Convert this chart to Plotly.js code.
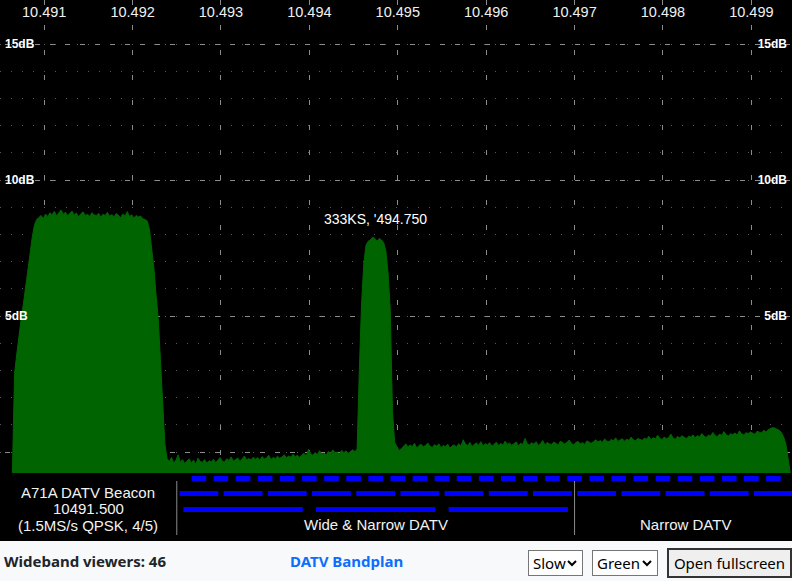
<!DOCTYPE html>
<html>
<head>
<meta charset="utf-8">
<script src="https://cdn.plot.ly/plotly-3.0.1.min.js"></script>
<style>
html, body { margin:0; padding:0; background:#000; width:792px; height:581px; overflow:hidden; }
#chart { position:absolute; left:0; top:0; width:792px; height:541px; }
#bar { position:absolute; left:0; top:541px; width:792px; height:40px; background:#f8f9fa; font-family:"Noto Sans","Open Sans",sans-serif; }
#viewers { position:absolute; left:4px; top:9px; font-size:15px; font-weight:bold; color:#212529; line-height:22px; }
#bandplan { position:absolute; left:290px; top:9px; font-size:15px; font-weight:bold; color:#0d6efd; line-height:22px; }
select { position:absolute; top:9px; height:26px; font-family:"Noto Sans","Open Sans",sans-serif; font-size:15px;
  border:1px solid #767676; border-radius:0; color:#000; padding:0 0 0 4px;
  -webkit-appearance:none; appearance:none;
  background:#fff url("data:image/svg+xml;utf8,<svg xmlns='http://www.w3.org/2000/svg' width='10' height='7'><path d='M1 1 L5 5 L9 1' fill='none' stroke='black' stroke-width='2'/></svg>") no-repeat right 5px center; }
#speed { left:528px; width:55px; }
#colour { left:592px; width:66px; }
#fs { position:absolute; left:667px; top:7px; width:125px; height:30px; font-family:"Noto Sans","Open Sans",sans-serif; font-size:15px; background:#efefef; border:2px solid #333; color:#000; padding:0; }
</style>
</head>
<body>
<div id="chart"></div>
<div id="bar">
  <span id="viewers">Wideband viewers: 46</span>
  <span id="bandplan">DATV Bandplan</span>
  <select id="speed"><option>Slow</option><option>Fast</option></select>
  <select id="colour"><option>Green</option><option>Blue</option></select>
  <button id="fs">Open fullscreen</button>
</div>
<script>
// ---------------- data ----------------
const freqStart = 10.49064;   // GHz, first spectrum bin
const freqStep  = 0.000025;   // GHz per bin
const levelsDb = [
  -0.77, 2.9, 3.6, 4.3, 4.9, 5.45, 6.1, 6.8, 7.4, 7.9, 8.35, 8.55,
  8.62, 8.70, 8.58, 8.75, 8.66, 8.80, 8.72, 8.85, 8.68, 8.78,
  8.90, 8.74, 8.82, 8.69, 8.77, 8.86, 8.71, 8.79, 8.64, 8.76,
  8.83, 8.70, 8.74, 8.66, 8.80, 8.72, 8.69, 8.78, 8.63, 8.74,
  8.70, 8.81, 8.67, 8.73, 8.65, 8.77, 8.71, 8.62, 8.75, 8.68,
  8.84, 8.66, 8.72, 8.60, 8.70, 8.64, 8.68, 8.58, 8.55,
  8.5, 8.2, 7.5, 6.8, 5.8, 4.9, 3.4, 1.7, 0.3,
  -0.25,
  -0.35, -0.20, -0.40, -0.30, -0.10, -0.38, -0.28, -0.42, -0.33, -0.25,
  -0.40, -0.30, -0.45, -0.22, -0.35, -0.38, -0.28, -0.41, -0.32, -0.36,
  -0.27, -0.39, -0.30, -0.20, -0.34, -0.37, -0.25, -0.31, -0.18, -0.33,
  -0.28, -0.22, -0.35, -0.26, -0.15, -0.30, -0.24, -0.29, -0.19, -0.27,
  -0.21, -0.30, -0.17, -0.25, -0.22, -0.12, -0.28, -0.20, -0.24, -0.16,
  -0.23, -0.18, -0.10, -0.21, -0.15, -0.19, -0.08, -0.17, -0.12, -0.20,
  -0.10, -0.05, -0.14, 0.10, -0.06, -0.12, -0.02, -0.09, 0.05, -0.07,
  -0.04, -0.11, 0.02, -0.06, 0.08, -0.03, 0.00, -0.08, 0.06, -0.02,
  0.04, -0.05, 0.03, 0.08, 0.02,
  0.1, 3.0, 5.4, 6.9, 7.6, 7.75, 7.8, 7.9, 7.85, 7.75, 7.85, 7.8, 7.7, 7.4, 6.6, 5.2, 1.5, 0.35, 0.2,
  0.05, 0.12, 0.22, 0.30, 0.18, 0.26, 0.20, 0.32, 0.15, 0.24,
  0.28, 0.19, 0.25, 0.33, 0.21, 0.17, 0.27, 0.22, 0.30, 0.16,
  0.24, 0.20, 0.29, 0.14, 0.23, 0.26, 0.18, 0.31, 0.22, 0.45,
  0.30, 0.24, 0.35, 0.20, 0.28, 0.33, 0.25, 0.38, 0.22, 0.30,
  0.27, 0.34, 0.21, 0.29, 0.36, 0.24, 0.31, 0.26, 0.40, 0.28,
  0.33, 0.25, 0.30, 0.37, 0.23, 0.32, 0.28, 0.50, 0.30, 0.26,
  0.34, 0.29, 0.38, 0.24, 0.31, 0.42, 0.27, 0.35, 0.30, 0.28,
  0.37, 0.32, 0.26, 0.40, 0.33, 0.29, 0.36, 0.44, 0.31, 0.27,
  0.35, 0.39, 0.30, 0.34, 0.28, 0.41, 0.36, 0.32, 0.38, 0.45,
  0.37, 0.42, 0.35, 0.48, 0.40, 0.38, 0.46, 0.41, 0.52, 0.39,
  0.44, 0.49, 0.40, 0.47, 0.43, 0.55, 0.45, 0.41, 0.50, 0.46,
  0.43, 0.51, 0.47, 0.58, 0.44, 0.52, 0.48, 0.62, 0.50, 0.46,
  0.55, 0.49, 0.53, 0.66, 0.51, 0.47, 0.57, 0.52, 0.60, 0.54,
  0.50, 0.58, 0.55, 0.63, 0.52, 0.60, 0.56, 0.68, 0.58, 0.54,
  0.62, 0.59, 0.72, 0.60, 0.57, 0.66, 0.61, 0.75, 0.63, 0.59,
  0.67, 0.64, 0.70, 0.62, 0.78, 0.66, 0.63, 0.71, 0.68, 0.74,
  0.69, 0.65, 0.76, 0.72, 0.70, 0.80, 0.74, 0.82, 0.86, 0.90,
  0.88,
  0.84, 0.80, 0.72, 0.55, 0.30, -0.2, -0.77
];

const freqTicks = [10.491, 10.492, 10.493, 10.494, 10.495, 10.496, 10.497, 10.498, 10.499];
const freqTickLabels = ['10.491', '10.492', '10.493', '10.494', '10.495', '10.496', '10.497', '10.498', '10.499'];
const dbTicks = [0, 5, 10, 15];
const dbTickLabels = ['', '5dB', '10dB', '15dB'];

const signalLabel = { freq: 10.49475, db: 8.55, text: "333KS, '494.750" };

// bandplan channels (centre GHz) and widths (GHz)
const narrowChannels = [10.49275, 10.493, 10.49325, 10.4935, 10.49375, 10.494, 10.49425, 10.4945, 10.49475,
  10.495, 10.49525, 10.4955, 10.49575, 10.496, 10.49625, 10.4965, 10.49675, 10.497, 10.49725, 10.4975,
  10.49775, 10.498, 10.49825, 10.4985, 10.49875, 10.499, 10.49925];
const narrowWidth = 0.000165;
const mediumChannels = [10.49275, 10.49325, 10.49375, 10.49425, 10.49475, 10.49525, 10.49575,
  10.49625, 10.49675, 10.49725, 10.49775, 10.49825, 10.49875, 10.49925];
const mediumWidth = 0.00044;
const wideChannels = [10.49325, 10.49475, 10.49625];
const wideWidth = 0.00135;

const segmentEdges = [10.4925, 10.497];
const beaconFreq = 10.4915;
const beaconLines = ['A71A DATV Beacon', '10491.500', '(1.5MS/s QPSK, 4/5)'];
const segmentFreqs = [10.49475, 10.49825];
const segmentNames = ['Wide & Narrow DATV', 'Narrow DATV'];

// ---------------- drawing ----------------
const freqs = levelsDb.map((_, i) => +(freqStart + i * freqStep).toFixed(6));

const H = 541;
const py = p => 1 - p / H;   // pixel row -> paper y
const FONT = 'Liberation Sans, Arial, sans-serif';

const shapes = [];
function addRow(centers, width, top, bottom) {
  centers.forEach(c => shapes.push({
    type: 'rect', xref: 'x', yref: 'paper',
    x0: c - width / 2, x1: c + width / 2, y0: py(bottom), y1: py(top),
    fillcolor: '#0000ff', line: { width: 0 }, layer: 'above'
  }));
}
addRow(narrowChannels, narrowWidth, 476, 481);
addRow(mediumChannels, mediumWidth, 491, 496);
addRow(wideChannels, wideWidth, 507, 512);
segmentEdges.forEach(f => shapes.push({
  type: 'line', xref: 'x', yref: 'paper', x0: f, x1: f, y0: py(535), y1: py(481),
  line: { color: '#8a8a8a', width: 1 }, layer: 'above'
}));
// black backing behind the dB labels
dbTicks.filter((_, i) => dbTickLabels[i]).forEach(v => {
  shapes.push({ type: 'rect', xref: 'paper', yref: 'y', x0: 0, x1: 35 / 792, y0: v - 0.27, y1: v + 0.27,
    fillcolor: '#000', line: { width: 0 }, layer: 'between' });
  shapes.push({ type: 'rect', xref: 'paper', yref: 'y', x0: 757 / 792, x1: 1, y0: v - 0.27, y1: v + 0.27,
    fillcolor: '#000', line: { width: 0 }, layer: 'between' });
});

const annotations = [];
annotations.push({ x: signalLabel.freq, y: signalLabel.db, xref: 'x', yref: 'y', text: signalLabel.text,
  showarrow: false, font: { family: FONT, size: 14, color: '#ffffff' } });
const beaconRows = [492, 508.5, 525];
beaconLines.forEach((t, i) => annotations.push({ x: beaconFreq, y: py(beaconRows[i]), xref: 'x', yref: 'paper',
  text: t, showarrow: false, yanchor: 'middle', font: { family: FONT, size: 15, color: '#f2f2f2' } }));
segmentNames.forEach((t, i) => annotations.push({ x: segmentFreqs[i], y: py(524), xref: 'x', yref: 'paper',
  text: t, showarrow: false, yanchor: 'middle', font: { family: FONT, size: 15, color: '#f2f2f2' } }));

const trace = {
  type: 'scatter', x: freqs, y: levelsDb, mode: 'lines', fill: 'toself',
  fillcolor: 'rgb(0,100,0)', line: { color: 'rgb(0,100,0)', width: 1 }, hoverinfo: 'skip', showlegend: false
};
// same spectrum referenced on the right-hand dB axis so that axis is drawn (invisible)
const traceRight = {
  type: 'scatter', x: freqs, y: levelsDb, yaxis: 'y2', mode: 'lines', opacity: 0,
  line: { width: 0 }, hoverinfo: 'skip', showlegend: false
};

const yRange = [-0.772, 16.62];
const dbFont = { family: FONT, size: 12, color: '#ffffff', weight: 'bold' };
const layout = {
  width: 792, height: 541,
  margin: { l: 0, r: 0, t: 0, b: 0, pad: 0 },
  paper_bgcolor: '#000', plot_bgcolor: '#000',
  showlegend: false,
  xaxis: {
    range: [10.4905, 10.49946], side: 'top', anchor: 'y',
    tickmode: 'array', tickvals: freqTicks, ticktext: freqTickLabels,
    ticks: '', ticklabelposition: 'inside', ticklabelstandoff: 4,
    tickfont: { family: FONT, size: 14.5, color: '#f0f0f0' },
    showgrid: true, gridcolor: '#8c8c8c', griddash: '5px,20px', gridwidth: 1,
    zeroline: false, showline: false, fixedrange: true
  },
  yaxis: {
    domain: [68 / 541, 1], range: yRange,
    tickmode: 'array', tickvals: dbTicks, ticktext: dbTickLabels,
    ticks: '', ticklabelposition: 'inside', ticklabelstandoff: 2,
    tickfont: dbFont,
    showgrid: true, gridcolor: '#8c8c8c', griddash: '0px,5px,5px,5px', gridwidth: 1,
    minor: { tick0: 0, dtick: 1, showgrid: true, gridcolor: '#5a5a5a', griddash: '1px,10px', ticks: '' },
    zeroline: false, showline: false, fixedrange: true
  },
  yaxis2: {
    overlaying: 'y', side: 'right', anchor: 'x', range: yRange,
    tickmode: 'array', tickvals: dbTicks, ticktext: dbTickLabels,
    ticks: '', ticklabelposition: 'inside', ticklabelstandoff: 2,
    tickfont: dbFont,
    showgrid: false, zeroline: false, showline: false, fixedrange: true
  },
  shapes: shapes,
  annotations: annotations
};

Plotly.newPlot('chart', [trace, traceRight], layout, { staticPlot: true, displayModeBar: false });
</script>
</body>
</html>
